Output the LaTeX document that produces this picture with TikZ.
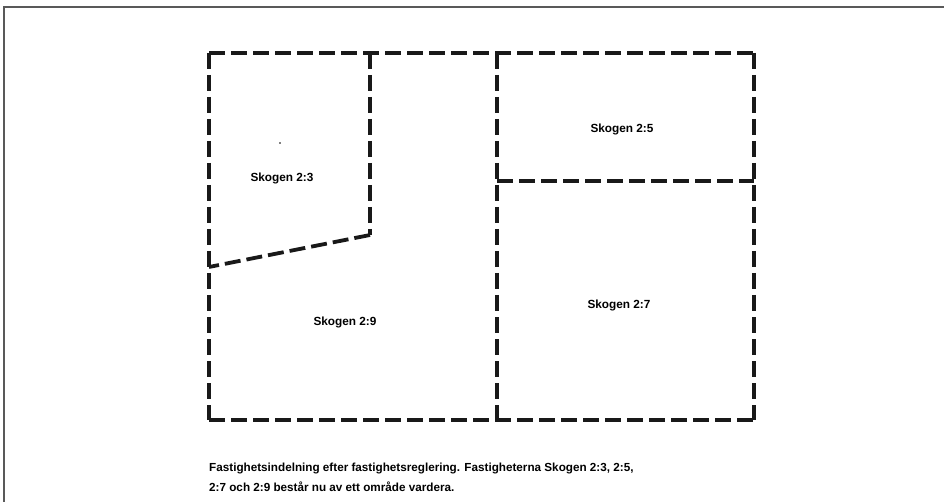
\documentclass[tikz,border=0pt]{standalone}
\usepackage{fontspec}
\setmainfont{Liberation Sans}
\begin{document}
\begin{tikzpicture}[x=1pt,y=-1pt,
  boundary/.style={line width=3.8pt, dash pattern=on 16pt off 6pt, black!90},
  lbl/.style={font=\bfseries\fontsize{11.8}{14}\selectfont, inner sep=0pt},
  captiontext/.style={font=\bfseries\fontsize{11.7}{20}\selectfont, inner sep=0pt, anchor=west, align=left}]
\useasboundingbox (0,0) rectangle (944,502);
% page frame
\draw[gray!70!black, line width=1.2pt] (4,502) -- (4,7) -- (944,7);
% parcel corners
\coordinate (tl) at (209,53);
\coordinate (tr) at (754,53);
\coordinate (bl) at (209,420);
\coordinate (br) at (754,420);
\coordinate (mt) at (497,53);
\coordinate (mb) at (497,420);
\coordinate (it) at (370,53);
\coordinate (ib) at (370,235);
\coordinate (dl) at (209,267);
\coordinate (hl) at (497,181);
\coordinate (hr) at (754,181);
% boundaries
\draw[boundary] (tl) -- (tr);
\draw[boundary] (tl) -- (bl);
\draw[boundary] (bl) -- (br);
\draw[boundary] (tr) -- (br);
\draw[boundary] (mt) -- (mb);
\draw[boundary] (it) -- (ib);
\draw[boundary] (ib) -- (dl);
\draw[boundary] (hl) -- (hr);
% labels
\fill (280,143) circle (0.8pt);
\node[lbl] (s3) at (282,178) {Skogen 2:3};
\node[lbl] (s5) at (622,129) {Skogen 2:5};
\node[lbl] (s9) at (345,322) {Skogen 2:9};
\node[lbl] (s7) at (619,305) {Skogen 2:7};
\node[captiontext] (c) at (209,477) {Fastighetsindelning efter fastighetsreglering. Fastigheterna Skogen 2:3, 2:5,\\2:7 och 2:9 består nu av ett område vardera.};
\end{tikzpicture}
\end{document}
